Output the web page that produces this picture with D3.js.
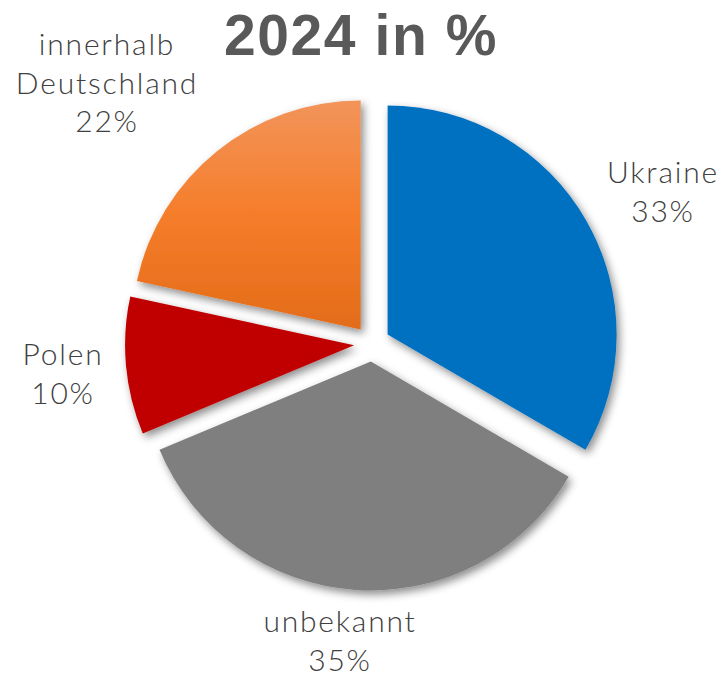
<!DOCTYPE html>
<html><head><meta charset="utf-8">
<script src="https://cdn.jsdelivr.net/npm/d3@7"></script>
<style>html,body{margin:0;padding:0;background:#fff;}</style>
</head><body>
<script>
const categories = ["Ukraine", "unbekannt", "Polen", "innerhalb Deutschland"];
const values = [33.4, 35.3, 9.7, 21.6];
const valueLabels = ["33%", "35%", "10%", "22%"];
const labelLines = [["Ukraine"], ["unbekannt"], ["Polen"], ["innerhalb", "Deutschland"]];
const colors = ["#0070c0", "#7f7f7f", "#c00000", "url(#orangeGrad)"];
const labelPos = [[663, 183], [340, 632], [63, 365], [107, 55]];
const title = "2024 in %";

const W = 725, H = 675;
const cx = 372, cy = 343.5, R = 229, explode = 18;
const svg = d3.select("body").append("svg").attr("width", W).attr("height", H);
const defs = svg.append("defs");
const g1 = defs.append("linearGradient").attr("id", "orangeGrad").attr("x1", 0).attr("y1", 0).attr("x2", 0).attr("y2", 1);
g1.append("stop").attr("offset", "0%").attr("stop-color", "#f2945a");
g1.append("stop").attr("offset", "50%").attr("stop-color", "#f57d2a");
g1.append("stop").attr("offset", "100%").attr("stop-color", "#e36c19");
const f = defs.append("filter").attr("id", "shadow").attr("x", "-20%").attr("y", "-20%").attr("width", "140%").attr("height", "140%");
f.append("feDropShadow").attr("dx", 3).attr("dy", 4).attr("stdDeviation", 4).attr("flood-color", "#000").attr("flood-opacity", 0.45);

const pie = d3.pie().sort(null).value(d => d);
const arcs = pie(values);
const arc = d3.arc().innerRadius(0).outerRadius(R);

const gPie = svg.append("g").attr("transform", `translate(${cx},${cy})`);
gPie.selectAll("path").data(arcs).join("path")
  .attr("d", arc)
  .attr("fill", (d, i) => colors[i])
  .attr("filter", "url(#shadow)")
  .attr("transform", d => {
    const a = (d.startAngle + d.endAngle) / 2;
    return `translate(${explode * Math.sin(a)},${-explode * Math.cos(a)})`;
  });

svg.append("text").attr("x", 361).attr("y", 55).attr("text-anchor", "middle")
  .attr("font-family", "Liberation Sans, Arial, sans-serif").attr("font-weight", "bold")
  .attr("font-size", 57).attr("letter-spacing", 1.6).attr("fill", "#595959").text(title);

const lh = 38.5;
arcs.forEach((d, i) => {
  const lines = labelLines[i].concat([valueLabels[i]]);
  const t = svg.append("text").attr("text-anchor", "middle")
    .attr("font-family", "Lato, sans-serif").attr("font-weight", 300)
    .attr("font-size", 30).attr("letter-spacing", 1.8).attr("fill", "#404040");
  lines.forEach((ln, j) => {
    t.append("tspan").attr("x", labelPos[i][0]).attr("y", labelPos[i][1] + j * lh).text(ln);
  });
});
</script>
</body></html>
